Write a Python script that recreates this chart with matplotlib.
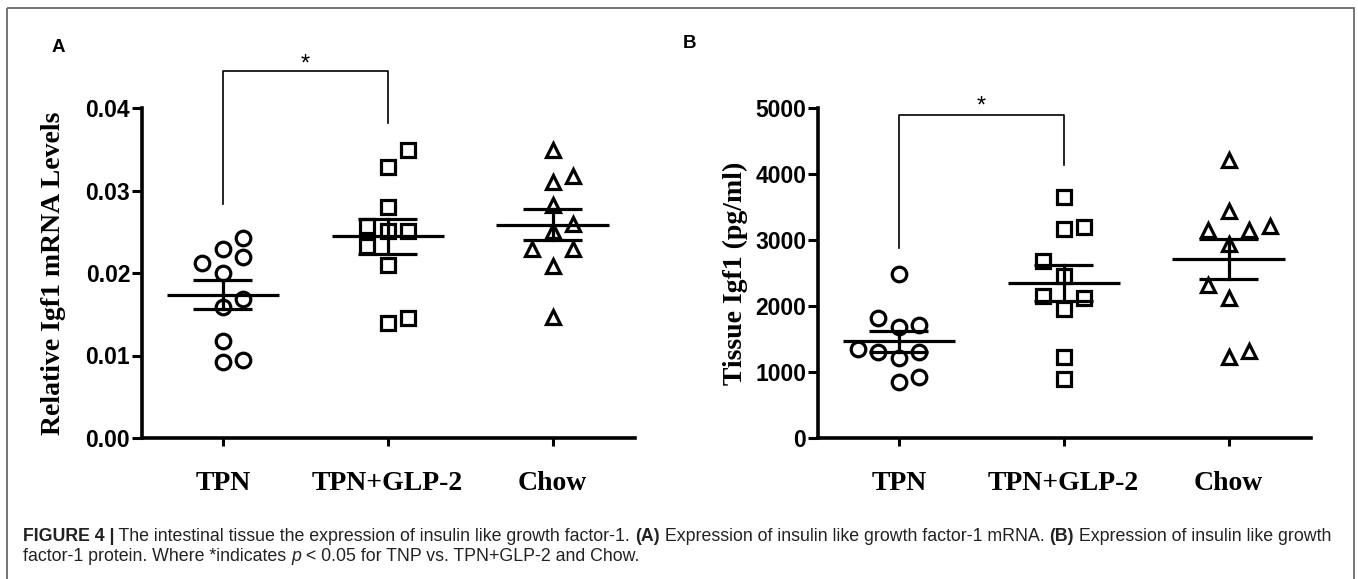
import numpy as np
import matplotlib
matplotlib.use("Agg")
import matplotlib.pyplot as plt
from matplotlib.patches import Rectangle

# ---------------- data ----------------
groups = ["TPN", "TPN+GLP-2", "Chow"]

mrna_tpn = [0.0243, 0.0229, 0.0220, 0.0212, 0.0200, 0.0169, 0.0159, 0.0118, 0.0092, 0.0094]
mrna_glp = [0.0349, 0.0329, 0.0280, 0.0257, 0.0251, 0.0251, 0.0233, 0.0210, 0.0139, 0.0145]
mrna_chow = [0.0349, 0.0318, 0.0310, 0.0282, 0.0259, 0.0251, 0.0229, 0.0229, 0.0208, 0.0147]

prot_tpn = [2485, 1821, 1684, 1719, 1352, 1301, 1209, 1301, 842, 918]
prot_glp = [3658, 3163, 3199, 2679, 2449, 2158, 2128, 1954, 1224, 893]
prot_chow = [4209, 3444, 3148, 3148, 3214, 2944, 2321, 2128, 1224, 1311]

mrna_ticks = [0.00, 0.01, 0.02, 0.03, 0.04]
prot_ticks = [0, 1000, 2000, 3000, 4000, 5000]

# bracket values (y data units): left foot, top, right foot, star
mrna_bracket = [0.0284, 0.0445, 0.0382, 0.0453]
prot_bracket = [2883, 4898, 4133, 5025]

# layout: horizontal jitter steps of each point (scatter layout)
off_mrna = [[1, 0, 1, -1, 0, 1, 0, 0, 0, 1],
            [1, 0, 0, -1, 0, 1, -1, 0, 0, 1],
            [0, 1, 0, 0, 1, 0, -1, 1, 0, 0]]
off_prot = [[0, -1, 0, 1, -2, -1, 0, 1, 0, 1],
            [0, 0, 1, -1, 0, -1, 1, 0, 0, 0],
            [0, 0, -1, 1, 2, 0, -1, 0, 0, 1]]
STEP = 0.125

W, H = 1358, 579
fig = plt.figure(figsize=(W / 100, H / 100), dpi=100)

serif = ["Liberation Serif", "DejaVu Serif"]
sans = ["Liberation Sans", "DejaVu Sans"]

# background axes for border + caption
bg = fig.add_axes([0, 0, 1, 1])
bg.set_xlim(0, W)
bg.set_ylim(H, 0)
bg.axis("off")
bg.add_patch(Rectangle((7, 8), 1354 - 7, 620, fill=False, edgecolor="#6a6a6a",
                       lw=1.3, clip_on=False))


def panel(rect, series, offsets, ylim, ticks, ticklabels, ylabel, bracket, labelpad):
    ax = fig.add_axes(rect)
    markers = ["o", "s", "^"]
    msizes = [10.5, 10, 10.5]
    for i, (vals, offs) in enumerate(zip(series, offsets)):
        vals = np.asarray(vals, float)
        xs = i + np.asarray(offs) * STEP
        ax.plot(xs, vals, linestyle="none", marker=markers[i], ms=msizes[i],
                mfc="white", mec="black", mew=2.3, zorder=3, clip_on=False)
        m = vals.mean()
        sem = vals.std(ddof=1) / np.sqrt(len(vals))
        ax.plot([i - 0.34, i + 0.34], [m, m], color="black", lw=2.3, zorder=4,
                solid_capstyle="butt")
        ax.plot([i - 0.18, i + 0.18], [m + sem, m + sem], color="black", lw=2.3, zorder=4,
                solid_capstyle="butt")
        ax.plot([i - 0.18, i + 0.18], [m - sem, m - sem], color="black", lw=2.3, zorder=4,
                solid_capstyle="butt")
        ax.plot([i, i], [m - sem, m + sem], color="black", lw=2.3, zorder=4)
    ax.set_xlim(-0.49, 2.5)
    ax.set_ylim(*ylim)
    ax.spines[["top", "right"]].set_visible(False)
    for s in ["left", "bottom"]:
        ax.spines[s].set_linewidth(2.6)
    ax.set_yticks(ticks)
    ax.set_yticklabels(ticklabels, fontsize=16.5, fontweight="bold", family=sans)
    ax.set_xticks(range(3))
    ax.set_xticklabels(groups, fontsize=20, fontweight="bold", family=serif)
    ax.tick_params(axis="y", length=7.5, width=2.2, pad=1)
    ax.tick_params(axis="x", length=5.5, width=2.2, pad=18)
    ax.set_ylabel(ylabel, fontsize=20, fontweight="bold", family=serif, labelpad=labelpad)
    # significance bracket
    l, t, r, sy = bracket
    ax.plot([0, 0, 1, 1], [l, t, t, r], color="black", lw=1.2, clip_on=False)
    ax.text(0.5, sy, "*", ha="center", va="center", fontsize=17, family=sans,
            clip_on=False)
    return ax


ax_h = (438 - 108) / H
ax_b = 1 - 438 / H
ax_w = (635 - 142) / W

fmt_a = ["0.00", "0.01", "0.02", "0.03", "0.04"]
fmt_b = [str(t) for t in prot_ticks]

axA = panel([142 / W, ax_b, ax_w, ax_h], [mrna_tpn, mrna_glp, mrna_chow], off_mrna,
            (0, 0.04), mrna_ticks, fmt_a, "Relative Igf1 mRNA Levels", mrna_bracket, 14)
axB = panel([818 / W, ax_b, ax_w, ax_h], [prot_tpn, prot_glp, prot_chow], off_prot,
            (0, 5000), prot_ticks, fmt_b, "Tissue Igf1 (pg/ml)", prot_bracket, 5)

bg.text(58, 47, "A", ha="center", va="center", fontsize=13.5, fontweight="bold", family=sans)
bg.text(690, 44, "B", ha="center", va="center", fontsize=13.5, fontweight="bold", family=sans)

# caption with mixed styles
CAP = 12.8


def run(x, y, parts):
    prev = None
    for s, style in parts:
        kw = dict(fontsize=CAP, family=sans, color="#222222", va="baseline")
        if style == "b":
            kw["fontweight"] = "bold"
        elif style == "i":
            kw["fontstyle"] = "italic"
        if prev is None:
            prev = bg.text(x, y, s, ha="left", **kw)
        else:
            prev = bg.annotate(s, xy=(1, 0), xycoords=prev, ha="left", **kw)
            prev.set_va("bottom")


run(23, 541, [("FIGURE 4 |", "b"),
              (" The intestinal tissue the expression of insulin like growth factor-1. ", ""),
              ("(A)", "b"),
              (" Expression of insulin like growth factor-1 mRNA. ", ""),
              ("(B)", "b"),
              (" Expression of insulin like growth", "")])
run(23, 561, [("factor-1 protein. Where *indicates ", ""),
              ("p", "i"),
              (" < 0.05 for TNP vs. TPN+GLP-2 and Chow.", "")])

fig.savefig("out.png", dpi=100)
